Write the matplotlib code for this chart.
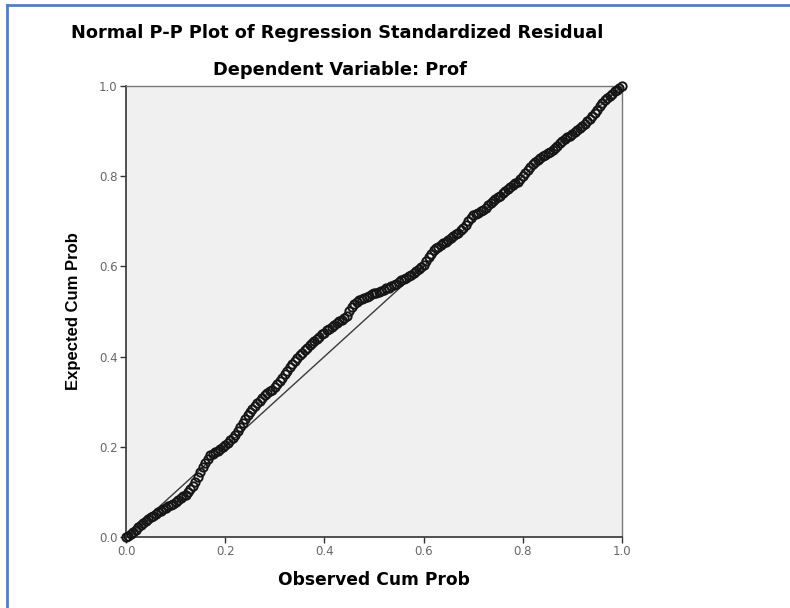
import matplotlib.pyplot as plt
from matplotlib.lines import Line2D

# Observed vs expected cumulative probabilities
observed = [0.000, 0.005, 0.010, 0.015, 0.020, 0.025, 0.030, 0.035, 0.040, 0.045,
            0.050, 0.055, 0.060, 0.065, 0.070, 0.075, 0.080, 0.085, 0.090, 0.095,
            0.100, 0.105, 0.110, 0.115, 0.120, 0.125, 0.130, 0.135, 0.140, 0.145,
            0.150, 0.155, 0.160, 0.165, 0.170, 0.175, 0.180, 0.185, 0.190, 0.195,
            0.200, 0.205, 0.210, 0.215, 0.220, 0.225, 0.230, 0.235, 0.240, 0.245,
            0.250, 0.255, 0.260, 0.265, 0.270, 0.275, 0.280, 0.285, 0.290, 0.295,
            0.300, 0.305, 0.310, 0.315, 0.320, 0.325, 0.330, 0.335, 0.340, 0.345,
            0.350, 0.355, 0.360, 0.365, 0.370, 0.375, 0.380, 0.385, 0.390, 0.395,
            0.400, 0.405, 0.410, 0.415, 0.420, 0.425, 0.430, 0.435, 0.440, 0.445,
            0.450, 0.455, 0.460, 0.465, 0.470, 0.475, 0.480, 0.485, 0.490, 0.495,
            0.500, 0.505, 0.510, 0.515, 0.520, 0.525, 0.530, 0.535, 0.540, 0.545,
            0.550, 0.555, 0.560, 0.565, 0.570, 0.575, 0.580, 0.585, 0.590, 0.595,
            0.600, 0.605, 0.610, 0.615, 0.620, 0.625, 0.630, 0.635, 0.640, 0.645,
            0.650, 0.655, 0.660, 0.665, 0.670, 0.675, 0.680, 0.685, 0.690, 0.695,
            0.700, 0.705, 0.710, 0.715, 0.720, 0.725, 0.730, 0.735, 0.740, 0.745,
            0.750, 0.755, 0.760, 0.765, 0.770, 0.775, 0.780, 0.785, 0.790, 0.795,
            0.800, 0.805, 0.810, 0.815, 0.820, 0.825, 0.830, 0.835, 0.840, 0.845,
            0.850, 0.855, 0.860, 0.865, 0.870, 0.875, 0.880, 0.885, 0.890, 0.895,
            0.900, 0.905, 0.910, 0.915, 0.920, 0.925, 0.930, 0.935, 0.940, 0.945,
            0.950, 0.955, 0.960, 0.965, 0.970, 0.975, 0.980, 0.985, 0.990, 0.995,
            1.000]
expected = [0.000, 0.003, 0.007, 0.011, 0.016, 0.022, 0.027, 0.032, 0.036, 0.040,
            0.044, 0.047, 0.051, 0.055, 0.058, 0.061, 0.064, 0.068, 0.071, 0.074,
            0.078, 0.082, 0.086, 0.090, 0.094, 0.099, 0.106, 0.114, 0.123, 0.133,
            0.145, 0.155, 0.164, 0.174, 0.182, 0.185, 0.188, 0.191, 0.195, 0.199,
            0.204, 0.209, 0.215, 0.220, 0.226, 0.234, 0.243, 0.252, 0.262, 0.271,
            0.278, 0.284, 0.290, 0.296, 0.302, 0.308, 0.314, 0.319, 0.323, 0.327,
            0.332, 0.339, 0.346, 0.353, 0.361, 0.369, 0.376, 0.383, 0.390, 0.397,
            0.404, 0.409, 0.414, 0.420, 0.425, 0.430, 0.434, 0.439, 0.444, 0.449,
            0.453, 0.458, 0.462, 0.466, 0.470, 0.474, 0.478, 0.481, 0.485, 0.490,
            0.500, 0.510, 0.517, 0.522, 0.525, 0.528, 0.530, 0.533, 0.535, 0.538,
            0.540, 0.541, 0.543, 0.546, 0.548, 0.551, 0.553, 0.556, 0.558, 0.561,
            0.565, 0.569, 0.572, 0.575, 0.578, 0.581, 0.585, 0.590, 0.594, 0.598,
            0.603, 0.611, 0.620, 0.628, 0.636, 0.640, 0.644, 0.648, 0.651, 0.655,
            0.659, 0.663, 0.667, 0.671, 0.675, 0.680, 0.685, 0.692, 0.700, 0.707,
            0.713, 0.716, 0.719, 0.722, 0.726, 0.730, 0.735, 0.740, 0.746, 0.750,
            0.753, 0.757, 0.762, 0.767, 0.771, 0.776, 0.780, 0.784, 0.788, 0.794,
            0.800, 0.807, 0.814, 0.820, 0.826, 0.831, 0.836, 0.840, 0.844, 0.848,
            0.851, 0.854, 0.858, 0.863, 0.868, 0.873, 0.878, 0.882, 0.886, 0.890,
            0.894, 0.898, 0.902, 0.906, 0.911, 0.916, 0.922, 0.927, 0.933, 0.940,
            0.947, 0.955, 0.962, 0.968, 0.973, 0.978, 0.983, 0.988, 0.992, 0.996,
            1.000]
ticks = [0.0, 0.2, 0.4, 0.6, 0.8, 1.0]
tick_labels = ['0.0', '0.2', '0.4', '0.6', '0.8', '1.0']

plt.rcParams['font.family'] = ['DejaVu Sans']

fig = plt.figure(figsize=(7.9, 6.08), dpi=100)
ax = fig.add_axes([0.1595, 0.1168, 0.6278, 0.7418])
ax.set_facecolor('#f0f0f0')

# reference diagonal
ax.plot([0, 1], [0, 1], color='#3a3a3a', linewidth=1.0, zorder=2)

# residual points
ax.plot(observed, expected, linestyle='none', marker='o', markersize=6.0,
        markerfacecolor='none', markeredgecolor='#151515', markeredgewidth=1.4,
        zorder=3, clip_on=False)

ax.set_xlim(0, 1)
ax.set_ylim(0, 1)
ax.set_xticks(ticks)
ax.set_xticklabels(tick_labels)
ax.set_yticks(ticks)
ax.set_yticklabels(tick_labels)
ax.tick_params(direction='out', length=4, width=1, color='#333333',
               labelsize=8.5, labelcolor='#666666', pad=2)

for side in ['left', 'bottom']:
    ax.spines[side].set_color('#333333')
    ax.spines[side].set_linewidth(1.2)
for side in ['top', 'right']:
    ax.spines[side].set_color('#777777')
    ax.spines[side].set_linewidth(1.0)

ax.set_xlabel('Observed Cum Prob', fontsize=12.3, fontweight='bold', labelpad=9)
ax.set_ylabel('Expected Cum Prob', fontsize=12, fontweight='bold', labelpad=13,
              family='Liberation Sans')

fig.text(0.427, 0.946, 'Normal P-P Plot of Regression Standardized Residual',
         ha='center', va='center', fontsize=12.8, fontweight='bold')
fig.text(0.430, 0.885, 'Dependent Variable: Prof',
         ha='center', va='center', fontsize=12.8, fontweight='bold')

# blue page frame on the top and left edges
fig.add_artist(Line2D([0.009, 1.0], [0.992, 0.992], color='#4f81bd', linewidth=2))
fig.add_artist(Line2D([0.009, 0.009], [0.0, 0.992], color='#4f81bd', linewidth=2))

fig.savefig('out.png', dpi=100)
